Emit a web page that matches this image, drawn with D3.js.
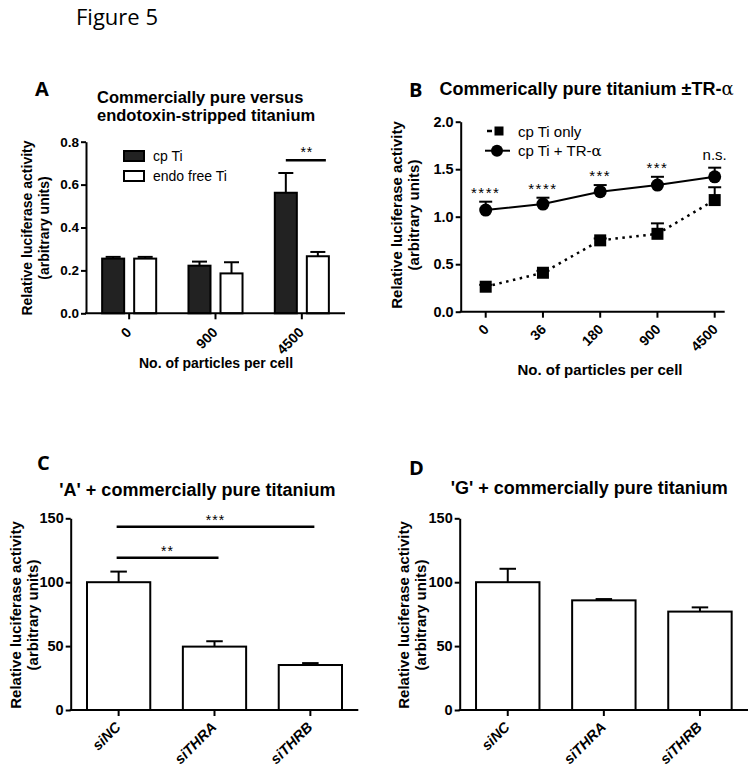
<!DOCTYPE html>
<html><head><meta charset="utf-8">
<script src="https://cdn.jsdelivr.net/npm/d3@7"></script>
<style>body{margin:0;background:#fff} svg{display:block}</style>
</head><body>
<script>
// ---------- data ----------
const catsA = ["0", "900", "4500"];
const seriesA = ["cp Ti", "endo free Ti"];
const cpTiA = [0.255, 0.222, 0.562];
const cpTiErrA = [0.008, 0.019, 0.092];
const endoA = [0.255, 0.186, 0.266];
const endoErrA = [0.008, 0.052, 0.02];
const ticksA = [0, 0.2, 0.4, 0.6, 0.8];
const sigA = [{ cat: "4500", level: 0.713, label: "**" }];

const catsB = ["0", "36", "180", "900", "4500"];
const seriesB = ["cp Ti only", "cp Ti + TR-α"];
const cpOnlyB = [0.263, 0.41, 0.751, 0.82, 1.175];
const cpOnlyErrB = [0.02, 0.02, 0.02, 0.11, 0.135];
const cpTRB = [1.07, 1.133, 1.263, 1.333, 1.42];
const cpTRErrB = [0.088, 0.067, 0.07, 0.087, 0.096];
const sigB = ["****", "****", "***", "***", "n.s."];
const ticksB = [0, 0.5, 1.0, 1.5, 2.0];

const catsCD = ["siNC", "siTHRA", "siTHRB"];
const valuesC = [100, 49.6, 35.2];
const errC = [8.3, 4.2, 1.5];
const sigC = [
  { from: "siNC", to: "siTHRB", level: 143.4, label: "***" },
  { from: "siNC", to: "siTHRA", level: 119.2, label: "**" }
];
const valuesD = [100, 85.8, 77];
const errD = [10.5, 1.0, 3.3];
const ticksCD = [0, 50, 100, 150];

// ---------- setup ----------
const FONT = "'Liberation Sans', Arial, sans-serif";
const svg = d3.select("body").append("svg")
  .attr("width", 756).attr("height", 772)
  .style("font-family", FONT);

svg.append("text").attr("x", 76).attr("y", 25)
  .attr("font-family", "'Open Sans', sans-serif").attr("font-size", 22)
  .text("Figure 5");

function letter(t, x, y) {
  svg.append("text").attr("x", x).attr("y", y)
    .attr("font-family", "'Open Sans', sans-serif").attr("font-weight", "bold")
    .attr("font-size", 20).text(t);
}
function title(lines, x, y, fs, lh) {
  lines.forEach((l, i) => {
    svg.append("text").attr("x", x).attr("y", y + i * lh)
      .attr("font-weight", "bold").attr("font-size", fs).text(l);
  });
}
function yLabel(cx, cy, fs, gap) {
  const g = svg.append("g").attr("transform", `translate(${cx},${cy}) rotate(-90)`);
  g.append("text").attr("text-anchor", "middle").attr("y", 0)
    .attr("font-weight", "bold").attr("font-size", fs).text("Relative luciferase activity");
  g.append("text").attr("text-anchor", "middle").attr("y", gap)
    .attr("font-weight", "bold").attr("font-size", fs).text("(arbitrary units)");
}
function yAxis(y, x0, ticks, fmt, fs) {
  const g = svg.append("g").attr("transform", `translate(${x0},0)`)
    .call(d3.axisLeft(y).tickValues(ticks).tickFormat(fmt).tickSize(5).tickSizeOuter(0).tickPadding(2));
  g.attr("font-family", FONT).attr("font-size", fs).attr("font-weight", "bold");
  g.select(".domain").attr("stroke-width", 2);
  g.selectAll(".tick line").attr("stroke-width", 2);
  g.selectAll(".tick text").attr("fill", "#000");
  return g;
}
function xAxis(x, y0, xStart, xEnd, fs, dx, dy, italic) {
  const g = svg.append("g").attr("transform", `translate(0,${y0})`)
    .call(d3.axisBottom(x).tickSize(6).tickSizeOuter(0));
  g.select(".domain").remove();
  g.append("line").attr("x1", xStart).attr("x2", xEnd).attr("stroke", "#000").attr("stroke-width", 2);
  g.attr("font-family", FONT).attr("font-size", fs).attr("font-weight", "bold");
  g.selectAll(".tick line").attr("stroke-width", 2);
  if (x.bandwidth) g.selectAll(".tick").attr("transform", d => `translate(${x(d) + x.bandwidth() / 2},0)`);
  g.selectAll(".tick text").attr("fill", "#000").attr("x", 0).attr("y", 0).attr("dy", null)
    .attr("text-anchor", "end")
    .attr("font-style", italic ? "italic" : null)
    .attr("transform", `translate(${dx},${dy}) rotate(-45)`);
  return g;
}
function errBar(x, yTop, yVal, cap) {
  svg.append("line").attr("x1", x).attr("x2", x).attr("y1", yVal).attr("y2", yTop)
    .attr("stroke", "#000").attr("stroke-width", 2);
  svg.append("line").attr("x1", x - cap / 2).attr("x2", x + cap / 2).attr("y1", yTop).attr("y2", yTop)
    .attr("stroke", "#000").attr("stroke-width", 2);
}

// ---------- Panel A ----------
letter("A", 35, 96);
title(["Commercially pure versus", "endotoxin-stripped titanium"], 97, 103, 16.5, 18);
const yA = d3.scaleLinear().domain([0, 0.8]).range([313.3, 141.7]);
const x0A = d3.scaleBand().domain(catsA).range([86, 345]).paddingInner(0.374).paddingOuter(0.187);
const x1A = d3.scaleBand().domain(seriesA).range([0, x0A.bandwidth()]).paddingInner(0.3125);
const dataA = catsA.map((c, i) => [
  { cat: c, s: seriesA[0], v: cpTiA[i], e: cpTiErrA[i], fill: "#222" },
  { cat: c, s: seriesA[1], v: endoA[i], e: endoErrA[i], fill: "#fff" }
]).flat();
dataA.forEach(d => {
  const bx = x0A(d.cat) + x1A(d.s);
  errBar(bx + x1A.bandwidth() / 2, yA(d.v + d.e), yA(d.v), 15);
});
svg.append("g").selectAll("rect").data(dataA).join("rect")
  .attr("x", d => x0A(d.cat) + x1A(d.s))
  .attr("y", d => yA(d.v))
  .attr("width", x1A.bandwidth())
  .attr("height", d => yA(0) - yA(d.v))
  .attr("fill", d => d.fill).attr("stroke", "#000").attr("stroke-width", 2);
yAxis(yA, 86, ticksA, d3.format(".1f"), 13.5);
xAxis(x0A, 313.3, 85, 345, 14, 3, 20, false);
svg.append("text").attr("x", 216).attr("y", 367.5).attr("text-anchor", "middle")
  .attr("font-weight", "bold").attr("font-size", 14).text("No. of particles per cell");
yLabel(31.5, 228, 14, 17);
// legend A
seriesA.forEach((s, i) => {
  svg.append("rect").attr("x", 124).attr("y", 151 + i * 20).attr("width", 20).attr("height", 10)
    .attr("fill", i === 0 ? "#222" : "#fff").attr("stroke", "#000").attr("stroke-width", 2);
  svg.append("text").attr("x", 153).attr("y", 161 + i * 20).attr("font-size", 14).text(s);
});
sigA.forEach(s => {
  const xa = x0A(s.cat) + x1A(seriesA[0]) + x1A.bandwidth() / 2;
  const xb = x0A(s.cat) + x1A(seriesA[1]) + x1A.bandwidth() - 3;
  svg.append("line").attr("x1", xa).attr("x2", xb).attr("y1", yA(s.level)).attr("y2", yA(s.level))
    .attr("stroke", "#000").attr("stroke-width", 2.5);
  svg.append("text").attr("x", (xa + xb) / 2 + 1).attr("y", yA(s.level) - 3).attr("text-anchor", "middle")
    .attr("font-size", 14).attr("letter-spacing", 1).text(s.label);
});

// ---------- Panel B ----------
letter("B", 409, 96.5);
const tB = svg.append("text").attr("x", 439.5).attr("y", 95).attr("font-weight", "bold").attr("font-size", 18);
tB.append("tspan").text("Commerically pure titanium ±TR-");
tB.append("tspan").attr("font-family", "'DejaVu Serif', serif").attr("font-weight", "normal").text("α");
const yB = d3.scaleLinear().domain([0, 2]).range([311.7, 121.7]);
const xB = d3.scalePoint().domain(catsB).range([485.7, 714.7]);
// lines
const lineB = d3.line().x(d => xB(d.c)).y(d => yB(d.v));
const onlyData = catsB.map((c, i) => ({ c, v: cpOnlyB[i], e: cpOnlyErrB[i] }));
const trData = catsB.map((c, i) => ({ c, v: cpTRB[i], e: cpTRErrB[i] }));
svg.append("path").datum(onlyData).attr("d", lineB).attr("fill", "none")
  .attr("stroke", "#000").attr("stroke-width", 2.5).attr("stroke-dasharray", "2.5,4.5");
svg.append("path").datum(trData).attr("d", lineB).attr("fill", "none")
  .attr("stroke", "#000").attr("stroke-width", 2);
onlyData.forEach(d => errBar(xB(d.c), yB(d.v + d.e), yB(d.v), 13));
trData.forEach(d => errBar(xB(d.c), yB(d.v + d.e), yB(d.v), 13));
svg.append("g").selectAll("rect").data(onlyData).join("rect")
  .attr("x", d => xB(d.c) - 6).attr("y", d => yB(d.v) - 6).attr("width", 12).attr("height", 12).attr("fill", "#000");
svg.append("g").selectAll("circle").data(trData).join("circle")
  .attr("cx", d => xB(d.c)).attr("cy", d => yB(d.v)).attr("r", 6.5).attr("fill", "#000");
trData.forEach((d, i) => {
  const ns = sigB[i] === "n.s.";
  svg.append("text").attr("x", xB(d.c)).attr("y", yB(d.v + d.e) - (ns ? 8 : 4))
    .attr("text-anchor", "middle").attr("font-size", 15)
    .attr("letter-spacing", ns ? 0 : 1.5).text(sigB[i]);
});
yAxis(yB, 460.7, ticksB, d3.format(".1f"), 14.5);
xAxis(xB, 311.7, 459.7, 724.7, 14, 4, 18.5, false);
svg.append("text").attr("x", 600).attr("y", 375).attr("text-anchor", "middle")
  .attr("font-weight", "bold").attr("font-size", 15).text("No. of particles per cell");
yLabel(402, 215, 15, 17);
// legend B
svg.append("line").attr("x1", 487).attr("x2", 492).attr("y1", 131).attr("y2", 131).attr("stroke", "#000").attr("stroke-width", 2.5);
svg.append("rect").attr("x", 494.5).attr("y", 126.5).attr("width", 9).attr("height", 9).attr("fill", "#000");
svg.append("line").attr("x1", 485).attr("x2", 510).attr("y1", 150.7).attr("y2", 150.7).attr("stroke", "#000").attr("stroke-width", 2);
svg.append("circle").attr("cx", 497).attr("cy", 150.7).attr("r", 6).attr("fill", "#000");
svg.append("text").attr("x", 518).attr("y", 136.5).attr("font-size", 15).text(seriesB[0]);
const lt = svg.append("text").attr("x", 518).attr("y", 156).attr("font-size", 15);
lt.append("tspan").text("cp Ti + TR-");
lt.append("tspan").attr("font-family", "'DejaVu Serif', serif").text("α");

// ---------- Panels C & D ----------
function barPanel(vals, errs, x0, x1, sig) {
  const y = d3.scaleLinear().domain([0, 150]).range([710, 518.3]);
  const x = d3.scaleBand().domain(catsCD).range([x0, x1]).paddingInner(0.34).paddingOuter(0.17);
  catsCD.forEach((c, i) => errBar(x(c) + x.bandwidth() / 2, y(vals[i] + errs[i]), y(vals[i]), 16.5));
  svg.append("g").selectAll("rect").data(catsCD).join("rect")
    .attr("x", c => x(c)).attr("y", (c, i) => y(vals[i]))
    .attr("width", x.bandwidth()).attr("height", (c, i) => y(0) - y(vals[i]))
    .attr("fill", "#fff").attr("stroke", "#000").attr("stroke-width", 2);
  yAxis(y, x0, ticksCD, d3.format("d"), 14.5);
  xAxis(x, 710, x0 - 1, x1, 14.5, 3, 18, true);
  (sig || []).forEach(s => {
    const xa = x(s.from) + x.bandwidth() / 2, xb = x(s.to) + x.bandwidth() / 2;
    svg.append("line").attr("x1", xa - 2).attr("x2", xb + 4).attr("y1", y(s.level)).attr("y2", y(s.level))
      .attr("stroke", "#000").attr("stroke-width", 2.5);
    svg.append("text").attr("x", (xa + xb) / 2 + 1).attr("y", y(s.level) - 2).attr("text-anchor", "middle")
      .attr("font-size", 14).attr("letter-spacing", 1).text(s.label);
  });
}
letter("C", 37, 470);
title(["'A' + commercially pure titanium"], 59.3, 496, 18, 0);
barPanel(valuesC, errC, 70.7, 358.3, sigC);
yLabel(20.5, 615, 15, 17);

letter("D", 409, 475);
title(["'G' + commercially pure titanium"], 450.7, 494, 18, 0);
barPanel(valuesD, errD, 459.7, 748, null);
yLabel(408.5, 615, 15, 17);
</script>
</body></html>
